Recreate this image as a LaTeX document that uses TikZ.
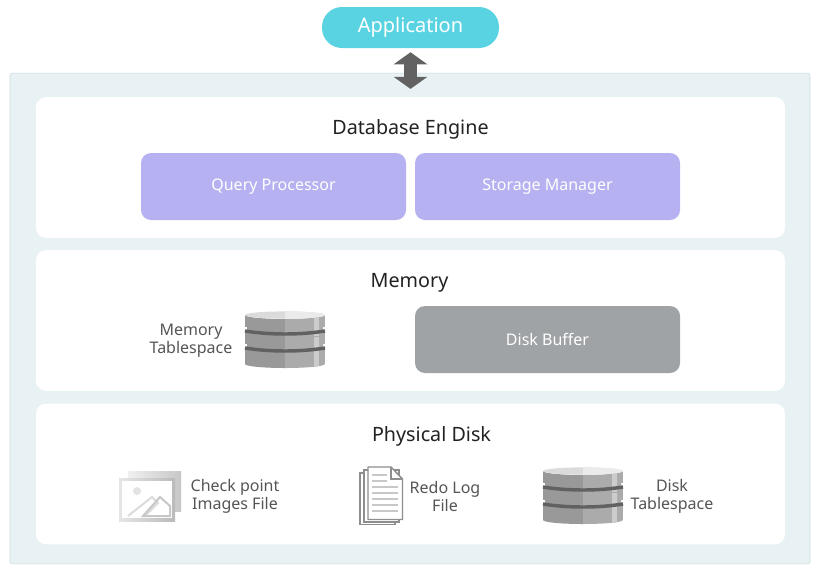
\documentclass[tikz,border=0pt]{standalone}
\usepackage{fontspec}
\setmainfont{Noto Sans}
\usepackage{xcolor}
\usetikzlibrary{arrows.meta,positioning,fit}
\definecolor{outerfill}{HTML}{E8F1F3}
\definecolor{outerline}{HTML}{CADBDB}
\definecolor{appfill}{HTML}{59D3E2}
\definecolor{procfill}{HTML}{B6B1F0}
\definecolor{bufffill}{HTML}{A0A3A6}
\definecolor{titletext}{HTML}{222222}
\definecolor{labeltext}{HTML}{555555}
\definecolor{arrowgray}{HTML}{626262}
\definecolor{sheetline}{HTML}{8E8E8E}
\definecolor{sheetbar}{HTML}{C8C8C8}

\tikzset{
  dbstack/.pic={
    \begin{scope}
      \clip (-40,4) -- (-40,53) arc[start angle=180,end angle=0,x radius=40,y radius=4]
        -- (40,4) arc[start angle=0,end angle=180,x radius=40,y radius=4] -- cycle;
      \fill[black!40] (-40,0) rectangle (0,60);
      \fill[black!33] (0,0) rectangle (40,60);
      \fill[black!20] (29,0) rectangle (34,60);
    \end{scope}
    \draw[line width=2.25pt,draw=white] (-40,17.5) .. controls (-15,21.5) and (15,21.5) .. (40,17.5);
    \draw[line width=2.25pt,draw=white] (-40,34.5) .. controls (-15,38.5) and (15,38.5) .. (40,34.5);
    \begin{scope}
      \clip (-38,10) rectangle (38,48);
      \fill[black!40] (-38,10) -- (-38,19) .. controls (-15,23) and (0,23) .. (0,23) -- (0,10) -- cycle;
      \fill[black!33] (0,10) -- (0,23) .. controls (15,23) and (38,19) .. (38,19) -- (38,10) -- cycle;
      \fill[black!40] (-38,25) -- (-38,36) .. controls (-15,40) and (0,40) .. (0,40) -- (0,25) -- cycle;
      \fill[black!33] (0,25) -- (0,40) .. controls (15,40) and (38,36) .. (38,36) -- (38,25) -- cycle;
      \fill[black!20] (29,10) rectangle (34,19.5) (29,26) rectangle (34,36.5);
    \end{scope}
    \draw[line width=2.6pt,draw=black!62] (-40,20) .. controls (-15,24) and (15,24) .. (40,20);
    \draw[line width=2.6pt,draw=black!62] (-40,37) .. controls (-15,41) and (15,41) .. (40,37);
    \fill[black!14] (0,4) ellipse [x radius=40,y radius=3.6];
    \fill[black!8] (0,0.4) arc[start angle=-90,end angle=90,x radius=40,y radius=3.6] -- cycle;
  }
}

\begin{document}
\begin{tikzpicture}[
  x=0.75pt,y=-0.75pt,
  panel/.style={draw=none,fill=white,rounded corners=7.5pt,minimum width=561.75pt,minimum height=105.5pt},
  block/.style={rounded corners=7.5pt,minimum width=198.75pt,minimum height=50.25pt,text=white,font=\fontsize{12}{14}\selectfont},
  title/.style={text=titletext,font=\fontsize{14.8}{17}\selectfont},
  caption/.style={text=labeltext,align=center,font=\fontsize{12}{13.5}\selectfont},
  bigarr/.style={{Triangle[width=24.75pt,length=9pt]}-{Triangle[width=24.75pt,length=9pt]},line width=9.75pt,draw=arrowgray}
]
\useasboundingbox (0,0) rectangle (820,572);
\node[draw=outerline,fill=outerfill,rounded corners=1.5pt,minimum width=600pt,minimum height=368pt,inner sep=0pt] (outer) at (410,318.5) {};
\node[panel] (engine) at (410.5,167.5) {};
\node[panel] (memory) at (410.5,320.5) {};
\node[panel] (disk) at (410.5,474) {};
\node[fill=appfill,rounded corners=15pt,minimum width=132.75pt,minimum height=30.75pt,text=white,font=\fontsize{15}{18}\selectfont] (app) at (410.5,27.5) {Application};
\draw[bigarr,shorten <=3pt,shorten >=6pt] (app) -- (engine);

\node[title] (enginetitle) at (410.5,129.5) {Database Engine};
\node[block,fill=procfill] (query) at (273.5,186.5) {\raisebox{-1pt}{Query Processor}};
\node[block,fill=procfill] (storage) at (547.5,186.5) {\raisebox{-1pt}{Storage Manager}};

\node[title] (memorytitle) at (409.5,283) {Memory};
\node[caption] (memlabel) at (191,341) {Memory\\Tablespace};
\pic at (285,311) {dbstack};
\node[block,fill=bufffill] (buffer) at (547.5,339.5) {\raisebox{-0.5pt}{Disk Buffer}};

\node[title] (disktitle) at (431.5,436.5) {Physical Disk};
% image file icon
\fill[left color=black!6,right color=black!22] (128,471) rectangle (181,511);
\fill[left color=black!10,right color=black!27] (119,478) rectangle (175,521);
\fill[white] (122,481) rectangle (172,518);
\fill[black!11] (137,491) circle (4);
\draw[line width=1.5pt,draw=black!14] (128,516) -- (152,497) -- (158,503) -- (145,516);
\draw[line width=1.5pt,draw=black!22] (143,516) -- (160,497) -- (170,506) -- (170,516) -- cycle;
\node[caption] (imglabel) at (235,496.5) {Check point\\Images File};
% redo log icon
\draw[line width=1.1pt,draw=sheetline,fill=white] (360,473) -- (360,524.5) -- (395,524.5) -- (395,473) -- cycle;
\draw[line width=1.1pt,draw=sheetline,fill=white] (364,470) -- (364,522) -- (399,522) -- (399,470) -- cycle;
\draw[line width=1.1pt,draw=sheetline,fill=white,line join=round] (368,467) -- (391,467) -- (402.5,479) -- (402.5,519.5) -- (368,519.5) -- cycle;
\draw[line width=1.1pt,draw=sheetline] (391,467) -- (391,479) -- (402.5,479);
\foreach \ypos in {475,481} \draw[line width=2pt,draw=sheetbar] (372,\ypos) -- (387,\ypos);
\foreach \ypos in {487,493,499,505,511} \draw[line width=2pt,draw=sheetbar] (372,\ypos) -- (398,\ypos);
\node[caption] (redolabel) at (445,496.5) {Redo Log\\File};
\pic at (583,467) {dbstack};
\node[caption] (tablabel) at (672,496.5) {Disk\\Tablespace};
\end{tikzpicture}
\end{document}
